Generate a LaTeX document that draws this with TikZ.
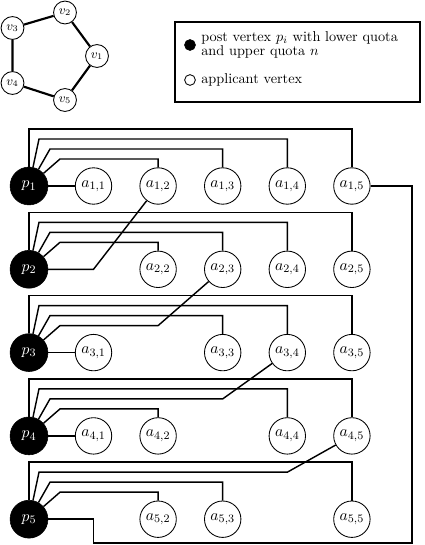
\documentclass[tikz,border=0pt]{standalone}
\usetikzlibrary{calc}
\begin{document}
\begin{tikzpicture}[x=0.7pt,y=-0.7pt,
  app/.style={circle,draw,line width=0.6pt,minimum size=25.5pt,inner sep=0pt,font=\fontsize{11}{13}\selectfont},
  post/.style={circle,fill=black,draw=black,minimum size=26.5pt,inner sep=0pt,text=white,font=\fontsize{11}{13}\selectfont},
  vtx/.style={circle,draw,line width=0.6pt,minimum size=16pt,inner sep=0pt,font=\small},
  edge/.style={line width=1pt},
  pent/.style={line width=1.5pt},
  legdot/.style={circle,inner sep=0pt,minimum size=7.5pt,line width=0.6pt}]
\useasboundingbox (0,0) rectangle (424,545);

% ---- small pentagon graph ----
\node[vtx] (v1) at (97,56) {$v_1$};
\node[vtx] (v2) at (65,12.5) {$v_2$};
\node[vtx] (v3) at (12.5,28) {$v_3$};
\node[vtx] (v4) at (12.5,83) {$v_4$};
\node[vtx] (v5) at (65,100) {$v_5$};
\draw[pent] (v1) -- (v2) (v2) -- (v3) (v3) -- (v4) (v4) -- (v5) (v5) -- (v1);

% ---- legend ----
\draw[line width=1pt] (175,22) rectangle (420,102);
\node[legdot,fill=black,draw=black] (lp) at (190,45) {};
\node[anchor=west,align=left,inner sep=0pt] (lt1) at (201,45) {post vertex $p_i$ with lower quota\\[-2pt]and upper quota $n$};
\node[legdot,draw=black] (la) at (190,80) {};
\node[anchor=west,inner sep=0pt] (lt2) at (201,80) {applicant vertex};

% ---- grid positions and post vertices ----
\foreach \i in {1,...,5}{
  \pgfmathsetmacro\yy{186+83.3*(\i-1)}
  \node[post] (p\i) at (29,\yy) {$p_{\i}$};
  \foreach \j in {1,...,5}{
    \coordinate (g\i\j) at ({93.5+64.6*(\j-1)},\yy);
  }
}
\coordinate (rb) at (412,543);

% ---- applicant vertices ----
\foreach \i/\j in {1/1,1/2,1/3,1/4,1/5,
                   2/2,2/3,2/4,2/5,
                   3/1,3/3,3/4,3/5,
                   4/1,4/2,4/4,4/5,
                   5/2,5/3,5/5}
  \node[app] (a\i\j) at (g\i\j) {$a_{\i,\j}$};

% ---- direct edges ----
\foreach \i in {1,3,4}
  \draw[edge] (p\i) -- (a\i1);
\foreach \i/\j/\dx/\dy in {1/2/31/-27,1/3/21/-37,1/4/10/-47,1/5/0/-57,
                           2/2/31/-27,2/3/21/-37,2/4/10/-47,2/5/0/-57,
                           3/3/21/-37,3/4/10/-47,3/5/0/-57,
                           4/2/31/-27,4/4/10/-47,4/5/0/-57,
                           5/2/31/-27,5/3/21/-37,5/5/0/-57}
  \draw[edge] (p\i) -- ++(\dx,\dy) -| (a\i\j);

% ---- cross edges ----
\draw[edge] (p2) -- (g21) -- (a12);
\draw[edge] (p3) -- ++(31,-27) -- ($(g32)+(0,-27)$) -- (a23);
\draw[edge] (p4) -- ++(21,-37) -- ($(g43)+(0,-37)$) -- (a34);
\draw[edge] (p5) -- ++(10,-47) -- ($(g54)+(0,-47)$) -- (a45);
\draw[edge] (p5) -- (g51) |- (rb) |- (a15);
\end{tikzpicture}
\end{document}
